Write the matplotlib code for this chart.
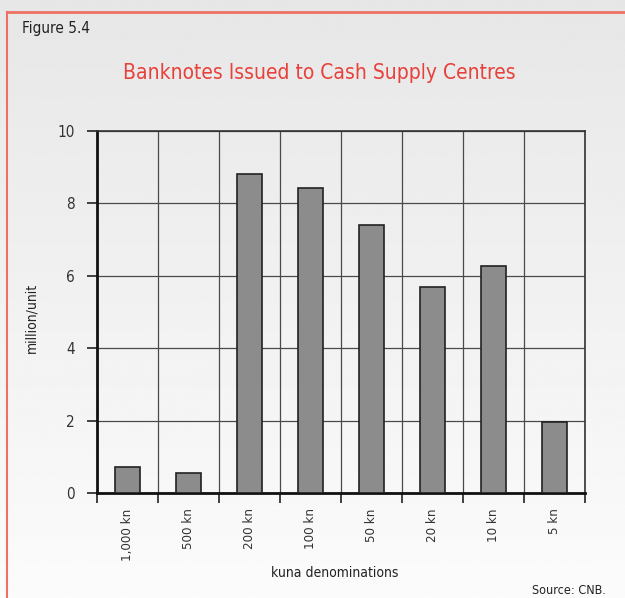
import matplotlib.pyplot as plt
import numpy as np
from matplotlib.lines import Line2D

# banknotes issued, million units
denominations = ['1,000 kn', '500 kn', '200 kn', '100 kn', '50 kn', '20 kn', '10 kn', '5 kn']
issued = [0.73, 0.56, 8.80, 8.43, 7.40, 5.69, 6.27, 1.97]
y_ticks = [0, 2, 4, 6, 8, 10]

W, H = 625, 598
plt.rcParams['font.family'] = ['Liberation Sans Narrow', 'DejaVu Sans']
plt.rcParams['font.stretch'] = 'condensed'

fig = plt.figure(figsize=(W / 100, H / 100), dpi=100)

# soft grey-to-white vertical background
bg = fig.add_axes([0, 0, 1, 1], zorder=-10)
grad = np.linspace(0.905, 0.985, 256).reshape(-1, 1)
bg.imshow(grad, cmap='gray', vmin=0, vmax=1, aspect='auto', extent=[0, 1, 0, 1])
bg.set_axis_off()

# red frame along top and left
red = '#ee6f63'
fig.add_artist(Line2D([7 / W, 1], [1 - 12 / H, 1 - 12 / H], color=red, lw=2, transform=fig.transFigure))
fig.add_artist(Line2D([7 / W, 7 / W], [0, 1 - 12 / H], color=red, lw=1.5, transform=fig.transFigure))

ax = fig.add_axes([97 / W, 1 - 493 / H, 488 / W, 362 / H])
ax.patch.set_alpha(0)

x = np.arange(len(denominations))
ax.bar(x, issued, width=0.41, color='#8c8c8c', edgecolor='#222222', linewidth=1.2, zorder=3)

ax.set_xlim(-0.5, len(denominations) - 0.5)
ax.set_ylim(0, 10)
ax.set_yticks(y_ticks)
ax.set_yticklabels([str(v) for v in y_ticks], fontsize=11, color='#333333')

# tick marks at category boundaries, labels at bar centres
ax.set_xticks(np.arange(-0.5, len(denominations)), minor=False)
ax.set_xticklabels([])
ax.set_xticks(x, minor=True)
ax.set_xticklabels(denominations, minor=True, rotation=90, fontsize=9.5, color='#333333')
ax.tick_params(axis='x', which='minor', length=0, pad=11)
ax.tick_params(axis='x', which='major', length=7, width=1.2, color='#222222', direction='out')
ax.tick_params(axis='y', length=7, width=1.2, color='#222222', pad=9)

ax.grid(True, which='major', color='#4a4a4a', linewidth=0.9, zorder=1)
ax.set_axisbelow(True)

for side in ['left', 'bottom']:
    ax.spines[side].set_linewidth(2)
    ax.spines[side].set_color('#111111')
for side in ['top', 'right']:
    ax.spines[side].set_linewidth(1.2)
    ax.spines[side].set_color('#333333')

fig.text(31 / W, 1 - 318 / H, 'million/unit', fontsize=10, color='#222222',
         rotation=90, va='center', ha='center')
fig.text(335 / W, 1 - 573 / H, 'kuna denominations', fontsize=10, color='#222222',
         va='center', ha='center')

fig.text(22 / W, 1 - 28 / H, 'Figure 5.4', fontsize=11, color='#222222', va='center', ha='left')
fig.text(319 / W, 1 - 73 / H, 'Banknotes Issued to Cash Supply Centres', fontsize=15,
         color='#e8413b', va='center', ha='center')
fig.text(606 / W, 1 - 591 / H, 'Source: CNB.', fontsize=9, color='#222222', va='center', ha='right')

fig.savefig('out.png', dpi=100)
